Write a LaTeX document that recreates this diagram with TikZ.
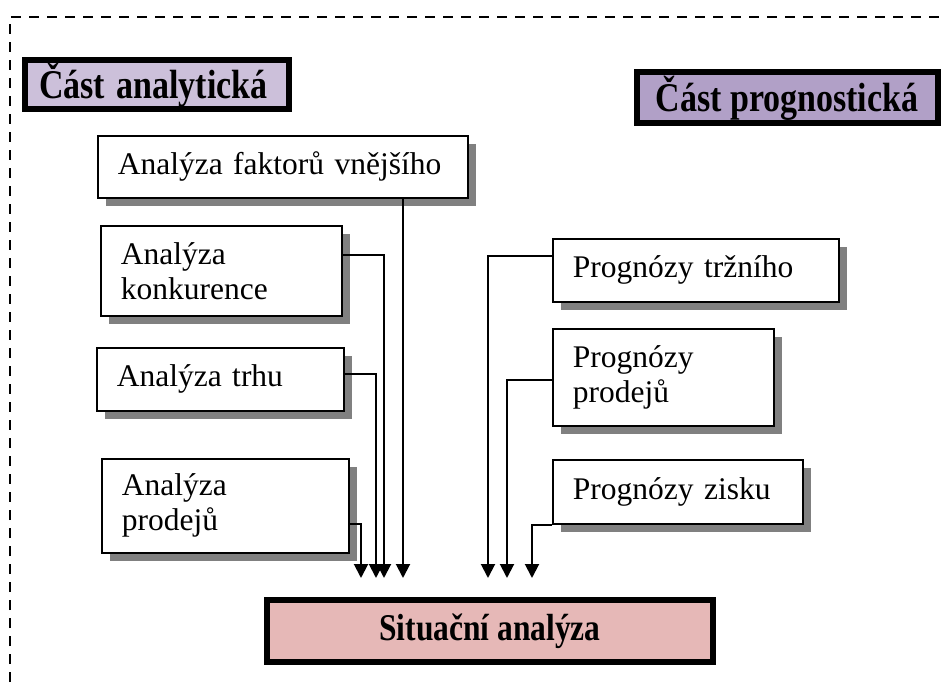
\documentclass[tikz,border=0pt]{standalone}
\usepackage{fontspec}
\usepackage{graphicx}
\setmainfont{Liberation Serif}
\usetikzlibrary{arrows.meta,shadows}

\definecolor{analfill}{HTML}{CCC0DA}
\definecolor{progfill}{HTML}{B1A0C7}
\definecolor{situfill}{HTML}{E6B8B7}

\newcommand\tallbf[1]{\scalebox{1}[1.2]{#1}}

\tikzset{
  partbox/.style 2 args={draw, line width=1.6pt, fill=white, anchor=north west,
    align=left, inner xsep=20pt, inner ysep=0pt, text width=#1, minimum height=#2,
    font=\fontsize{31.5}{35}\selectfont,
    drop shadow={shadow xshift=8pt, shadow yshift=-8pt, fill=gray, opacity=1}},
  headbox/.style={draw, line width=6pt, inner sep=0pt, align=center,
    font=\bfseries\fontsize{34}{36}\selectfont},
  conn/.style={line width=2pt, -{Triangle[width=14pt,length=14pt]}},
}

\begin{document}
\begin{tikzpicture}[x=1pt, y=-1pt]
\useasboundingbox (0,0) rectangle (943,684);
\clip (0,0) rectangle (943,684);

% dashed frame
\draw[line width=2pt, dash pattern=on 10pt off 8pt] (10,700) |- (960,17);

% headings
\node[headbox, fill=analfill, minimum width=264, minimum height=49,
  align=left, text width=236, inner xsep=14pt] (hanal) at (157,85) {\tallbf{Část analytická}};
\node[headbox, fill=progfill, minimum width=301, minimum height=51] (hprog) at (787,98) {\tallbf{Část prognostická}};
\node[headbox, fill=situfill, minimum width=446, minimum height=62,
  font=\bfseries\fontsize{31.5}{35}\selectfont] (situ) at (490,631) {\tallbf{Situační analýza}};

% analytic boxes
\node[partbox={330pt}{62pt}] (afakt) at (97,135) {Analýza faktorů vnějšího};
\node[partbox={201pt}{90pt}] (akonk) at (100,225) {Analýza\\konkurence};
\node[partbox={207pt}{63pt}] (atrhu) at (96,347) {Analýza trhu};
\node[partbox={207pt}{94pt}] (aprod) at (101,458) {Analýza\\prodejů};

% prognostic boxes
\node[partbox={246pt}{63pt}] (ptrzn) at (552,238) {Prognózy tržního};
\node[partbox={181pt}{97pt}] (pprod) at (552,328) {Prognózy\\prodejů};
\node[partbox={210pt}{64pt}] (pzisk) at (552,459) {Prognózy zisku};

% arrow tips
\coordinate (t1) at (361,578);
\coordinate (t2) at (376,578);
\coordinate (t3) at (384,578);
\coordinate (t4) at (403,578);
\coordinate (t5) at (488,578);
\coordinate (t6) at (507,578);
\coordinate (t7) at (532,578);

\draw[conn] (t4 |- afakt.south) -- (t4);
\draw[conn] ([yshift=16pt]akonk.east) -| (t3);
\draw[conn] ([yshift=5pt]atrhu.east) -| (t2);
\draw[conn] ([yshift=-18pt]aprod.east) -| (t1);
\draw[conn] ([yshift=14pt]ptrzn.west) -| (t5);
\draw[conn] ([yshift=-3pt]pprod.west) -| (t6);
\draw[conn] (pzisk.south west) -| (t7);
\end{tikzpicture}
\end{document}
